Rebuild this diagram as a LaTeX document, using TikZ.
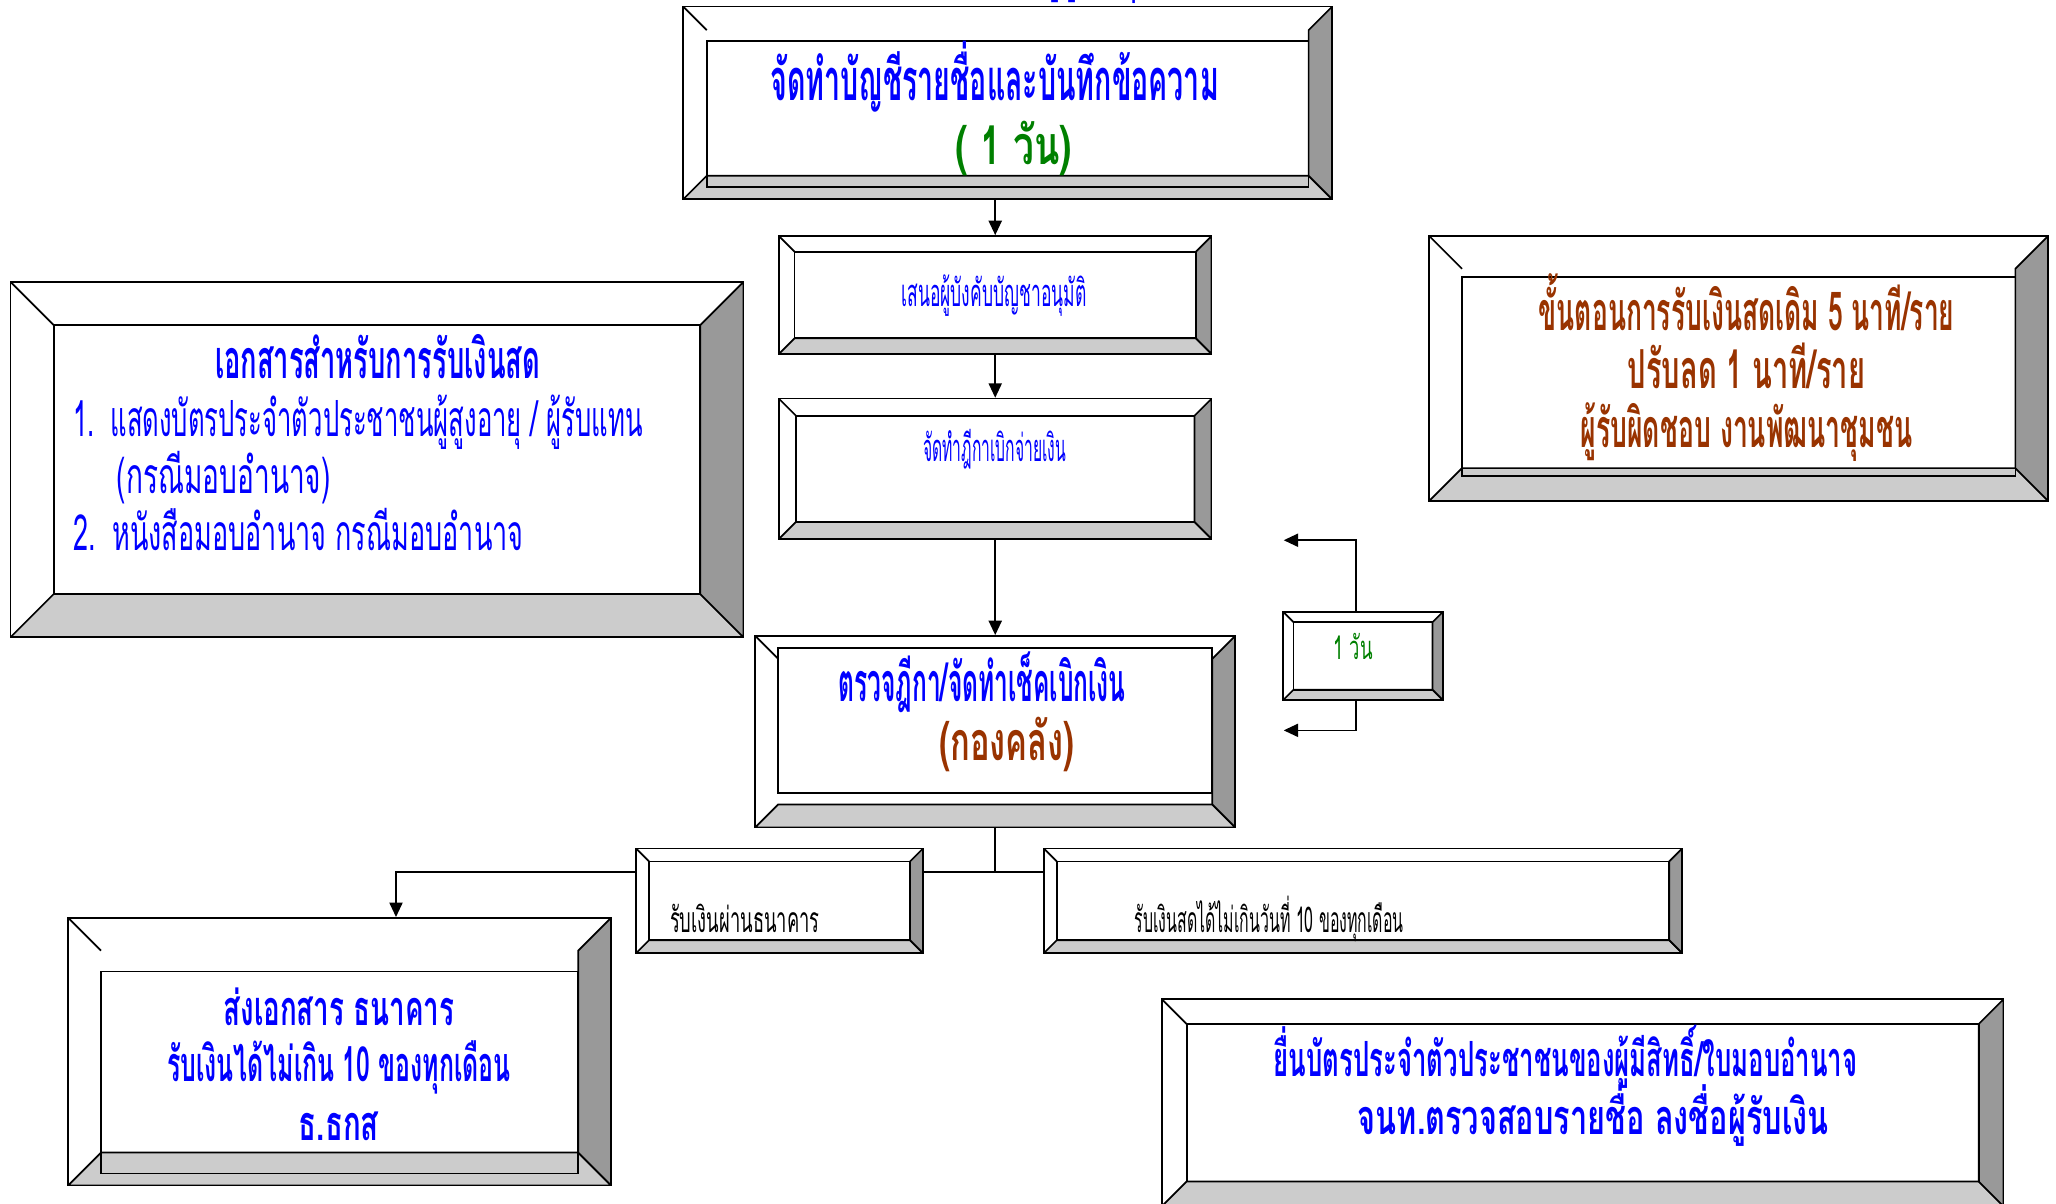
\documentclass[tikz,border=0pt]{standalone}
\usepackage{fontspec}
\usepackage{graphicx}
\newfontfamily\thai[Script=Thai]{Loma}
\usetikzlibrary{calc,arrows.meta}

\definecolor{tblue}{RGB}{0,0,255}
\definecolor{tgreen}{RGB}{0,128,0}
\definecolor{tbrown}{RGB}{153,51,0}
\definecolor{bevlight}{RGB}{204,204,204}
\definecolor{bevdark}{RGB}{153,153,153}

\pgfdeclarelayer{background}
\pgfsetlayers{background,main}

\newcommand{\fitw}[2]{\resizebox{#1}{\height}{#2}}

\tikzset{
  bevd/.store in=\bevd, bevd=12pt,
  bevs/.store in=\bevs, bevs=0pt,
  bevel/.style={rectangle, draw, line width=1.3pt, fill=white, inner sep=0pt,
    path picture={
      \coordinate (bsw) at (path picture bounding box.south west);
      \coordinate (bne) at (path picture bounding box.north east);
      \draw[line width=1.3pt, fill=bevlight] let \p1=(bsw), \p2=(bne) in
        (\x1,\y1) -- (\x2,\y1) -- ({\x2-\bevd},{\y1+\bevd}) -- ({\x1+\bevd},{\y1+\bevd}) -- cycle;
      \draw[line width=1.3pt, fill=bevdark] let \p1=(bsw), \p2=(bne) in
        (\x2,\y1) -- (\x2,\y2) -- ({\x2-\bevd},{\y2-\bevd}) -- ({\x2-\bevd},{\y1+\bevd}) -- cycle;
      \draw[line width=1.3pt] let \p1=(bsw), \p2=(bne) in
        (\x1,\y2) -- ({\x1+\bevd},{\y2-\bevd});
      \draw[line width=1.3pt] let \p1=(bsw), \p2=(bne) in
        ({\x1+\bevd},{\y1+\bevd-(\bevs)}) rectangle ({\x2-\bevd},{\y2-\bevd-(\bevs)});
    }},
  tx/.style={inner sep=0pt, anchor=base, font=\thai\fontsize{#1}{#1}\selectfont},
  hd/.style={inner sep=0pt, anchor=base, font=\thai\bfseries\fontsize{#1}{#1}\selectfont},
  arr/.style={-{Triangle[length=11pt,width=10pt]}, line width=1.3pt}
}

\begin{document}
\begin{tikzpicture}[x=1pt,y=-1pt]
  \useasboundingbox (0,0) rectangle (1568,918);

  % boxes
  \node[bevel, bevd=18pt, bevs=8.5pt, minimum width=495pt, minimum height=147pt] (list) at (768.5,78.5) {};
  \node[bevel, bevd=12pt, minimum width=330pt, minimum height=90pt] (propose) at (759,225) {};
  \node[bevel, bevd=13pt, minimum width=330pt, minimum height=107pt] (voucher) at (759,357.5) {};
  \node[bevel, bevd=17.5pt, bevs=-8.5pt, minimum width=366pt, minimum height=146pt] (cheque) at (759,558) {};
  \node[bevel, bevd=8pt, minimum width=122pt, minimum height=67.5pt] (oneday) at (1039.5,500.25) {};
  \node[bevel, bevd=33pt, minimum width=559pt, minimum height=271pt] (docs) at (287.5,350.5) {};
  \node[bevel, bevd=25pt, bevs=6pt, minimum width=472pt, minimum height=202pt] (rate) at (1326,281) {};
  \node[bevel, bevd=10pt, minimum width=219pt, minimum height=80pt] (viabank) at (594.5,687) {};
  \node[bevel, bevd=10pt, minimum width=487pt, minimum height=80pt] (cashday) at (1039.5,687) {};
  \node[bevel, bevd=25pt, bevs=16pt, minimum width=414pt, minimum height=204pt] (bankbox) at (259,802) {};
  \node[bevel, bevd=19pt, minimum width=642pt, minimum height=158pt] (idcard) at (1207,841) {};

  % texts
  \node[hd=44, tblue, anchor=base west] (cut) at (797,-9) {\fitw{70pt}{ผู้สูงอายุ}};
  \node[hd=44, tblue] (listA) at (758.5,77) {\fitw{342pt}{จัดทำบัญชีรายชื่อและบันทึกข้อความ}};
  \node[hd=41, tgreen] (listB) at (773,125.5) {\fitw{89pt}{( 1 วัน)}};
  \node[tx=29, tblue] (proposeT) at (758,234) {\fitw{141pt}{เสนอผู้บังคับบัญชาอนุมัติ}};
  \node[tx=29, tblue] (voucherT) at (758.6,352) {\fitw{109pt}{จัดทำฎีกาเบิกจ่ายเงิน}};
  \node[hd=41, tblue] (chequeA) at (749,535) {\fitw{219pt}{ตรวจฎีกา/จัดทำเช็คเบิกเงิน}};
  \node[hd=41, tbrown] (chequeB) at (768,580) {\fitw{103pt}{(กองคลัง)}};
  \node[tx=25, tgreen] (onedayT) at (1032,503) {\fitw{30pt}{1 วัน}};
  \node[hd=41, tblue] (docsA) at (288,288.5) {\fitw{248pt}{เอกสารสำหรับการรับเงินสด}};
  \node[tx=38, tblue, anchor=base west] (docsB) at (56,333) {\fitw{434pt}{1.\hspace{0.6em}แสดงบัตรประจำตัวประชาชนผู้สูงอายุ / ผู้รับแทน}};
  \node[tx=38, tblue, anchor=base west] (docsC) at (89,376) {\fitw{163pt}{(กรณีมอบอำนาจ)}};
  \node[tx=38, tblue, anchor=base west] (docsD) at (56,420) {\fitw{343pt}{2.\hspace{0.6em}หนังสือมอบอำนาจ กรณีมอบอำนาจ}};
  \node[hd=41, tbrown] (rateA) at (1332,252) {\fitw{317pt}{ขั้นตอนการรับเงินสดเดิม 5 นาที/ราย}};
  \node[hd=41, tbrown] (rateB) at (1332,296) {\fitw{181pt}{ปรับลด 1 นาที/ราย}};
  \node[hd=41, tbrown] (rateC) at (1332,341) {\fitw{253pt}{ผู้รับผิดชอบ งานพัฒนาชุมชน}};
  \node[tx=27] (viabankT) at (568,711) {\fitw{114pt}{รับเงินผ่านธนาคาร}};
  \node[tx=27] (cashdayT) at (968,711) {\fitw{205pt}{รับเงินสดได้ไม่เกินวันที่ 10 ของทุกเดือน}};
  \node[hd=37, tblue] (bankA) at (258.5,782) {\fitw{176pt}{ส่งเอกสาร ธนาคาร}};
  \node[hd=37, tblue] (bankB) at (258.5,825) {\fitw{262pt}{รับเงินได้ไม่เกิน 10 ของทุกเดือน}};
  \node[hd=37, tblue] (bankC) at (258.5,870) {\fitw{61pt}{ธ.ธกส}};
  \node[hd=37, tblue] (idA) at (1194,821) {\fitw{445pt}{ยื่นบัตรประจำตัวประชาชนของผู้มีสิทธิ์/ใบมอบอำนาจ}};
  \node[hd=37, tblue] (idB) at (1215,865) {\fitw{359pt}{จนท.ตรวจสอบรายชื่อ ลงชื่อผู้รับเงิน}};

  % connectors
  \coordinate (split) at (759,665);
  \coordinate (drop) at (302,665);
  \coordinate (rise) at (1034,0);
  \coordinate (ret1) at (979,412);
  \coordinate (ret2) at (979,557);
  \begin{pgfonlayer}{background}
    \draw[arr] (propose.north |- list.south) -- (propose);
    \draw[arr] (propose) -- (voucher);
    \draw[arr] (voucher) -- (cheque);
    \draw[line width=1.3pt] (cheque) -- (split);
    \draw[line width=1.3pt] (split) -- (split -| cashday.west);
    \draw[arr] (split) -- (drop) -- (drop |- bankbox.north);
    \draw[arr] (rise |- oneday.north) |- (ret1);
    \draw[arr] (rise |- oneday.south) |- (ret2);
  \end{pgfonlayer}
\end{tikzpicture}
\end{document}
